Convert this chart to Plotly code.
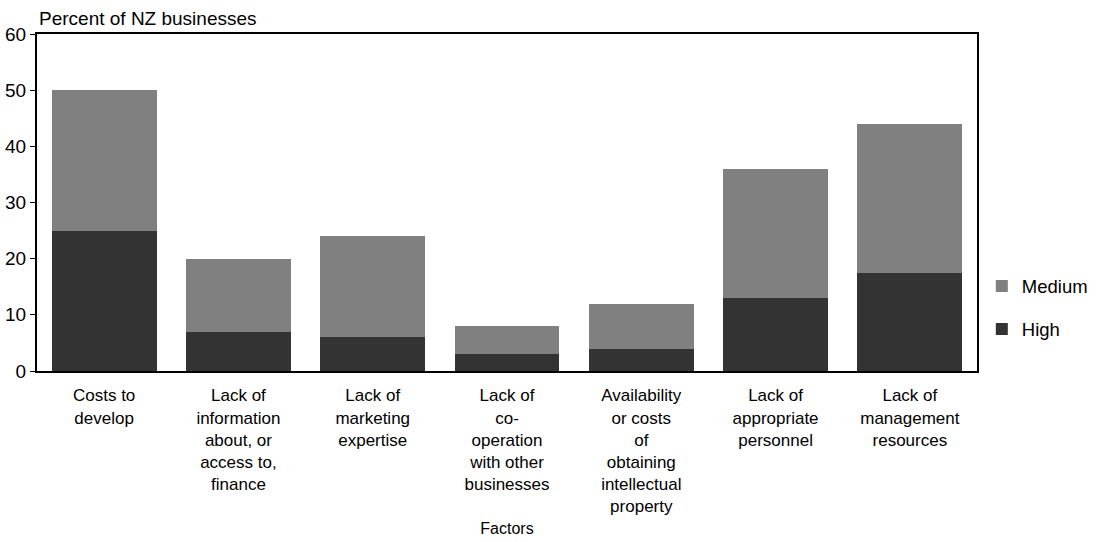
import plotly.graph_objects as go

categories = [
    "Costs to<br>develop",
    "Lack of<br>information<br>about, or<br>access to,<br>finance",
    "Lack of<br>marketing<br>expertise",
    "Lack of<br>co-<br>operation<br>with other<br>businesses",
    "Availability<br>or costs<br>of<br>obtaining<br>intellectual<br>property",
    "Lack of<br>appropriate<br>personnel",
    "Lack of<br>management<br>resources",
]
high = [25, 7, 6, 3, 4, 13, 17.5]
medium = [25, 13, 18, 5, 8, 23, 26.5]
y_ticks = [0, 10, 20, 30, 40, 50, 60]

FONT = "Liberation Sans, Arial, sans-serif"

fig = go.Figure()
fig.add_trace(go.Bar(x=categories, y=high, name="High", marker_color="#333333",
                     marker_line_width=0, legendgroup="h", legendrank=2))
fig.add_trace(go.Bar(x=categories, y=medium, name="Medium", marker_color="#808080",
                     marker_line_width=0, legendgroup="m", legendrank=1))

fig.update_layout(
    barmode="stack",
    bargap=0.22,
    width=1097, height=542,
    margin=dict(l=37, r=120, t=34, b=171),
    plot_bgcolor="white", paper_bgcolor="white",
    font=dict(family=FONT, size=17, color="black"),
    legend=dict(xref="container", yref="container", x=0.895, y=0.432,
                xanchor="left", yanchor="middle",
                traceorder="grouped", tracegroupgap=16,
                font=dict(size=18.5), bgcolor="rgba(0,0,0,0)"),
    xaxis=dict(showline=True, linecolor="black", linewidth=2, mirror=True,
               ticks="", tickfont=dict(size=17), range=[-0.5, 6.5],
               automargin=False, ticklabelstandoff=8,
               title=dict(text="Factors", font=dict(size=16), standoff=8)),
    yaxis=dict(range=[0, 60], tickvals=y_ticks, showgrid=False, zeroline=False,
               showline=True, linecolor="black", linewidth=2, mirror=True,
               ticks="outside", ticklen=5, tickcolor="black",
               automargin=False,
               tickfont=dict(size=19)),
    annotations=[dict(text="Percent of NZ businesses", xref="paper", yref="paper",
                      x=0, y=1, xanchor="left", yanchor="bottom", yshift=3,
                      showarrow=False, font=dict(size=19))],
)

fig.write_html("out.html", config={"displayModeBar": False},
               post_script="document.body.style.margin='0';")
